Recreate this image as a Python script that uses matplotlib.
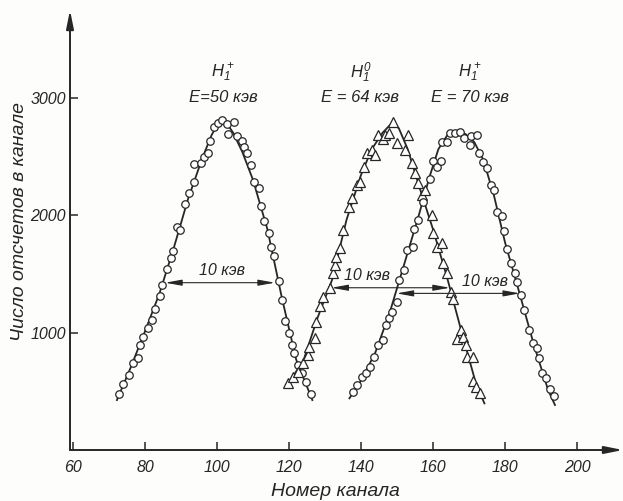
import matplotlib
matplotlib.use('Agg')
import matplotlib.pyplot as plt

# H1+ , E = 50 keV  (circles)
ch1 = [72.9, 74.0, 75.6, 76.8, 78.0, 78.6, 79.5, 80.9, 81.9, 82.9, 84.1, 84.8, 86.0, 87.2, 87.9,
       88.8, 89.7, 91.1, 92.1, 93.5, 93.7, 95.6, 96.5, 97.6, 98.2, 99.2, 100.2, 101.5, 102.7,
       103.2, 104.7, 105.5, 106.9, 107.6, 108.3, 109.4, 110.4, 111.7, 112.2, 113.1, 114.4, 115.0,
       115.9, 117.2, 118.2, 118.9, 120.0, 120.8, 121.4, 122.6, 123.7, 124.7, 126.0]
n1 = [480, 560, 635, 740, 785, 890, 965, 1040, 1110, 1200, 1315, 1405, 1540, 1630, 1695,
      1900, 1870, 2090, 2190, 2285, 2435, 2445, 2495, 2525, 2630, 2745, 2785, 2810, 2775,
      2690, 2790, 2670, 2630, 2580, 2530, 2425, 2285, 2230, 2080, 1945, 1845, 1730,
      1655, 1440, 1275, 1100, 1000, 895, 825, 725, 655, 580, 480]

# H1 0 , E = 64 keV  (triangles)
ch2 = [119.8, 121.0, 122.6, 124.0, 125.4, 125.7, 127.2, 127.6, 128.6, 129.5, 131.4, 132.3, 132.8,
       133.2, 134.2, 135.1, 136.8, 137.4, 138.8, 139.7, 140.8, 141.6, 143.0, 143.9, 144.8, 146.0,
       146.7, 147.9, 149.0, 149.9, 152.2, 153.1, 154.1, 155.0, 155.9, 156.9, 157.8, 159.6, 159.9,
       161.0, 162.4, 162.9, 163.8, 164.9, 165.6, 166.6, 167.8, 168.4, 169.2, 169.6, 171.2, 171.0,
       172.1, 173.2]
n2 = [567, 624, 666, 738, 809, 874, 950, 1088, 1223, 1305, 1376, 1504, 1574,
      1645, 1716, 1872, 2071, 2142, 2255, 2283, 2411, 2525, 2553, 2511, 2681, 2644,
      2681, 2695, 2794, 2610, 2553, 2681, 2440, 2355, 2270, 2170, 2213, 2000, 1844,
      1730, 1759, 1589, 1504, 1347, 1282, 942, 1021, 964, 894, 794, 794, 590,
      539, 482]

# H1+ , E = 70 keV  (circles)
ch3 = [137.9, 139.0, 140.2, 141.4, 142.5, 143.6, 144.8, 146.2, 146.9, 147.9, 148.5, 149.9, 150.6,
       151.9, 152.9, 154.4, 154.8, 155.9, 157.1, 159.2, 159.9, 161.0, 162.1, 162.6, 164.0, 164.7,
       166.1, 167.5, 168.6, 170.3, 170.7, 172.2, 172.9, 174.0, 174.9, 176.0, 177.0, 177.9, 179.1,
       179.7, 180.6, 181.7, 182.8, 183.4, 184.4, 185.3, 186.8, 187.7, 188.8, 189.5, 190.2, 191.4,
       192.5, 193.6]
n3 = [496, 553, 624, 658, 709, 794, 894, 936, 1064, 1121, 1177, 1262, 1447,
      1532, 1700, 1730, 1880, 1957, 2110, 2305, 2460, 2411, 2460, 2624, 2620, 2695,
      2700, 2704, 2653, 2596, 2670, 2681, 2525, 2454, 2397, 2255, 2213, 2028, 1991,
      1866, 1708, 1594, 1504, 1432, 1319, 1191, 1021, 908, 866, 780, 653, 610,
      517, 460]

# hand-drawn curves through the points
line1_x = [72.2, 76, 80, 84, 88, 92, 96, 98.5, 100.5, 102.5, 104.5, 107, 110, 114, 118, 122, 126.5]
line1_y = [425, 700, 1010, 1330, 1720, 2140, 2490, 2680, 2790, 2790, 2700, 2540, 2300, 1880, 1300, 770, 425]
line2_x = [120.5, 124, 128, 132, 136, 140, 143, 146, 148.5, 150.5, 153, 156, 160, 164, 168, 172, 174.3]
line2_y = [600, 760, 1130, 1450, 1960, 2340, 2560, 2700, 2780, 2740, 2560, 2260, 1880, 1460, 1000, 560, 397]
line3_x = [136.8, 140, 144, 148, 152, 156, 159, 161.5, 164, 166.5, 169, 171.5, 174, 177, 180, 184, 188, 192, 193.9]
line3_y = [440, 590, 830, 1170, 1580, 1990, 2320, 2560, 2680, 2710, 2690, 2620, 2470, 2160, 1770, 1340, 900, 510, 383]

# "10 keV" width arrows: (left, right, level)
widths = [(85.6, 116.1, 1424), (131.8, 164.7, 1381), (149.9, 184.2, 1333)]
width_labels = [(101.3, 1532), (141.6, 1489), (174.4, 1432)]

ink = '#262626'
font = 'Liberation Sans'
plt.rcParams['mathtext.fontset'] = 'custom'
plt.rcParams['mathtext.it'] = 'Liberation Sans:italic'
plt.rcParams['mathtext.rm'] = 'Liberation Sans:italic'
plt.rcParams['mathtext.bf'] = 'Liberation Sans:italic'

fig = plt.figure(figsize=(6.23, 5.01), dpi=100)
fig.patch.set_facecolor('#fdfdfb')
ax = fig.add_axes([70 / 623, 51 / 501, 553 / 623, 440 / 501])
ax.set_facecolor('none')
ax.set_xlim(59.17, 212.8)
ax.set_ylim(0, 3745)

for s in ax.spines.values():
    s.set_visible(False)
# axes with arrows
ax.annotate('', xy=(1, 0), xytext=(0, 0), xycoords='axes fraction',
            arrowprops=dict(arrowstyle='-|>,head_length=1.1,head_width=0.22', color=ink,
                            lw=1.4, shrinkA=0, shrinkB=0, mutation_scale=10))
ax.annotate('', xy=(0, 1), xytext=(0, 0), xycoords='axes fraction',
            arrowprops=dict(arrowstyle='-|>,head_length=1.1,head_width=0.22', color=ink,
                            lw=1.4, shrinkA=0, shrinkB=0, mutation_scale=10))

ax.set_xticks([60, 80, 100, 120, 140, 160, 180, 200])
ax.set_yticks([1000, 2000, 3000])
ax.tick_params(axis='x', direction='in', length=6, width=1.1, color=ink, pad=7)
ax.tick_params(axis='y', direction='in', length=6, width=1.1, color=ink, pad=3)
for lab in ax.get_xticklabels() + ax.get_yticklabels():
    lab.set_family(font)
    lab.set_style('italic')
    lab.set_fontsize(11.5)
    lab.set_color(ink)

ax.plot(line1_x, line1_y, color=ink, lw=1.3, zorder=2)
ax.plot(line2_x, line2_y, color=ink, lw=1.3, zorder=2)
ax.plot(line3_x, line3_y, color=ink, lw=1.3, zorder=2)
ax.plot(ch1, n1, 'o', ms=5.4, mfc='white', mec=ink, mew=0.9, zorder=3)
ax.plot(ch2, n2, '^', ms=6.5, mfc='white', mec=ink, mew=0.9, zorder=3)
ax.plot(ch3, n3, 'o', ms=5.4, mfc='white', mec=ink, mew=0.9, zorder=3)

for (a, b, lev), (tx, ty) in zip(widths, width_labels):
    ax.annotate('', xy=(a, lev), xytext=(b, lev),
                arrowprops=dict(arrowstyle='<|-|>,head_length=1.0,head_width=0.18', color=ink,
                                lw=0.8, shrinkA=0, shrinkB=0, mutation_scale=10))
    ax.text(tx, ty, '10 кэв', ha='center', va='center', fontsize=11.5, style='italic',
            family=font, color=ink)

tfont = dict(ha='center', va='center', style='italic', family=font, color=ink)
ax.text(101.7, 3209, r'$H_1^+$', fontsize=12, **tfont)
ax.text(101.7, 2996, 'E=50 кэв', fontsize=12, **tfont)
ax.text(140.0, 3209, r'$H_1^0$', fontsize=12, **tfont)
ax.text(139.7, 2996, 'E = 64 кэв', fontsize=12, **tfont)
ax.text(170.3, 3209, r'$H_1^+$', fontsize=12, **tfont)
ax.text(170.3, 2996, 'E = 70 кэв', fontsize=12, **tfont)

fig.text(335 / 623, 1 - 492 / 501, 'Номер канала', ha='center', va='center', fontsize=14,
         style='italic', family=font, color=ink)
fig.text(20 / 623, 1 - 222 / 501, 'Число отсчетов в канале', ha='center', va='center',
         rotation=90, fontsize=14, style='italic', family=font, color=ink)

fig.savefig('out.png', dpi=100, facecolor=fig.get_facecolor())
